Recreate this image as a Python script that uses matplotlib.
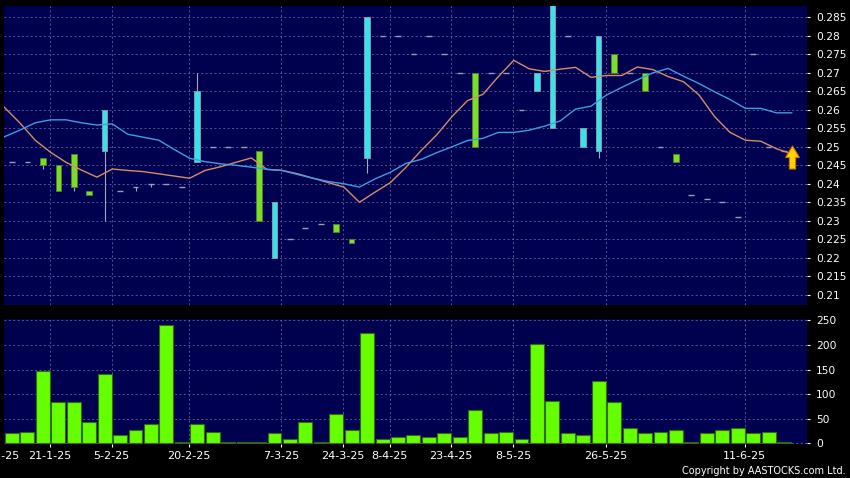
import numpy as np
import matplotlib
matplotlib.use('Agg')
import matplotlib.pyplot as plt
from matplotlib.path import Path

# daily bars, price in HKD, volume in '000 shares
opens = [0.246, 0.246, 0.247, 0.245, 0.248, 0.238, 0.249, 0.238, 0.239, 0.240,
         0.240, 0.239, 0.246, 0.250, 0.250, 0.250, 0.249, 0.220, 0.225, 0.228,
         0.229, 0.229, 0.225, 0.247, 0.280, 0.280, 0.275, 0.280, 0.275, 0.270,
         0.270, 0.270, 0.270, 0.260, 0.265, 0.255, 0.280, 0.250, 0.249, 0.275,
         0.270, 0.270, 0.250, 0.248, 0.237, 0.236, 0.235, 0.231, 0.275, 0.250,
         0.249]
highs = [0.246, 0.246, 0.247, 0.245, 0.248, 0.238, 0.260, 0.238, 0.239, 0.240,
         0.240, 0.239, 0.270, 0.250, 0.250, 0.250, 0.249, 0.235, 0.225, 0.228,
         0.229, 0.229, 0.225, 0.285, 0.280, 0.280, 0.275, 0.280, 0.275, 0.270,
         0.270, 0.270, 0.270, 0.260, 0.270, 0.290, 0.280, 0.255, 0.280, 0.275,
         0.270, 0.270, 0.250, 0.248, 0.237, 0.236, 0.235, 0.231, 0.275, 0.250,
         0.249]
lows = [0.246, 0.246, 0.244, 0.238, 0.238, 0.237, 0.230, 0.238, 0.238, 0.239,
        0.240, 0.239, 0.246, 0.250, 0.250, 0.250, 0.230, 0.220, 0.225, 0.228,
        0.229, 0.227, 0.224, 0.243, 0.280, 0.280, 0.275, 0.280, 0.275, 0.270,
        0.250, 0.270, 0.270, 0.260, 0.265, 0.255, 0.280, 0.250, 0.247, 0.270,
        0.270, 0.265, 0.250, 0.246, 0.237, 0.236, 0.235, 0.231, 0.275, 0.250,
        0.249]
closes = [0.246, 0.246, 0.245, 0.238, 0.239, 0.237, 0.260, 0.238, 0.239, 0.240,
          0.240, 0.239, 0.265, 0.250, 0.250, 0.250, 0.230, 0.235, 0.225, 0.228,
          0.229, 0.227, 0.224, 0.285, 0.280, 0.280, 0.275, 0.280, 0.275, 0.270,
          0.250, 0.270, 0.270, 0.260, 0.270, 0.290, 0.280, 0.255, 0.280, 0.270,
          0.270, 0.265, 0.250, 0.246, 0.237, 0.236, 0.235, 0.231, 0.275, 0.250,
          0.249]
volumes = [20, 24, 148, 84, 84, 44, 140, 16, 28, 39,
           240, 3, 39, 24, 3, 3, 3, 20, 8, 44,
           3, 59, 28, 224, 8, 12, 16, 12, 20, 12,
           68, 20, 24, 8, 203, 87, 20, 16, 127, 84,
           31, 20, 24, 28, 3, 20, 28, 31, 20, 24,
           3]

# moving averages, plotted half a bar to the right (first point is one bar before the window)
ma_short = [0.2607, 0.2565, 0.2518, 0.2485, 0.2458, 0.2437, 0.2418, 0.2440, 0.2436, 0.2433,
            0.2427, 0.2421, 0.2415, 0.2436, 0.2446, 0.2458, 0.2470, 0.2439, 0.2436, 0.2427,
            0.2415, 0.2403, 0.2391, 0.2350, 0.2377, 0.2403, 0.2444, 0.2490, 0.2532, 0.2582,
            0.2625, 0.2642, 0.2690, 0.2734, 0.2711, 0.2704, 0.2710, 0.2715, 0.2688, 0.2693,
            0.2693, 0.2716, 0.2709, 0.2690, 0.2676, 0.2640, 0.2582, 0.2539, 0.2518, 0.2515,
            0.2495, 0.2481]
ma_long = [0.2527, 0.2545, 0.2565, 0.2573, 0.2573, 0.2565, 0.2559, 0.2562, 0.2534, 0.2526,
           0.2518, 0.2493, 0.2469, 0.2460, 0.2454, 0.2450, 0.2445, 0.2439, 0.2436, 0.2425,
           0.2415, 0.2406, 0.2400, 0.2391, 0.2413, 0.2431, 0.2455, 0.2466, 0.2484, 0.2500,
           0.2517, 0.2523, 0.2539, 0.2539, 0.2545, 0.2556, 0.2570, 0.2602, 0.2610, 0.2640,
           0.2661, 0.2681, 0.2700, 0.2712, 0.2691, 0.2671, 0.2649, 0.2628, 0.2604, 0.2604,
           0.2592, 0.2592]

date_pos = [-0.72, 2.45, 6.45, 11.45, 17.45, 21.45, 24.45, 28.45, 32.45, 38.45, 47.45]
date_labels = ['7-1-25', '21-1-25', '5-2-25', '20-2-25', '7-3-25', '24-3-25',
               '8-4-25', '23-4-25', '8-5-25', '26-5-25', '11-6-25']
price_ticks = [0.21, 0.215, 0.22, 0.225, 0.23, 0.235, 0.24, 0.245, 0.25,
               0.255, 0.26, 0.265, 0.27, 0.275, 0.28, 0.285]
vol_ticks = [0, 50, 100, 150, 200, 250]

BG = '#000050'
GRID = '#55558f'
CYAN = '#36e2ee'
GREEN = '#7cdc2c'

o = np.array(opens); h = np.array(highs); l = np.array(lows); c = np.array(closes)
x = np.arange(len(c))
ma_x = np.arange(-1, len(c)) + 0.5

fig = plt.figure(figsize=(8.5, 4.78), dpi=100, facecolor='black')
ax = fig.add_axes([4/850, 1-305/478, 803/850, 299/478], facecolor=BG)
axv = fig.add_axes([4/850, 1-444/478, 803/850, 125/478], facecolor=BG)

xlim = (-0.518, 51.49)

# --- price panel
up = c > o
down = c < o
flat = ~(up | down)
has_wick = (h > np.maximum(o, c)) | (l < np.minimum(o, c))
ax.vlines(x[has_wick], l[has_wick], h[has_wick], color='#a8a8bc', lw=0.8, zorder=2)
ax.bar(x[up], (c - o)[up], bottom=o[up], width=0.36, color=CYAN,
       edgecolor='#7f9aa6', linewidth=0.7, zorder=3)
ax.bar(x[down], (o - c)[down], bottom=c[down], width=0.36, color=GREEN,
       edgecolor='#4d7f2c', linewidth=0.7, zorder=3)
ax.hlines(c[flat], x[flat] - 0.19, x[flat] + 0.19, color='#9c9cb4', lw=1.0, zorder=3)

ax.plot(ma_x, ma_short, color='#d98b64', lw=1.0, zorder=4)
ax.plot(ma_x, ma_long, color='#3c9fe2', lw=1.0, zorder=4)

# last-price arrow
arrow = Path([(0, 1), (0.6, 0), (0.27, 0), (0.27, -1), (-0.27, -1), (-0.27, 0), (-0.6, 0), (0, 1)],
             [Path.MOVETO] + [Path.LINETO] * 6 + [Path.CLOSEPOLY])
ax.plot(x[-1] + 0.5, c[-1] - 0.0017, marker=arrow, markersize=16.6, color='#ffd000',
        markeredgecolor='#c27a00', markeredgewidth=0.8, zorder=6, clip_on=False)

ax.set_xlim(*xlim)
ax.set_ylim(0.2072, 0.2881)
ax.yaxis.tick_right()
ax.set_yticks(price_ticks)
ax.set_yticklabels([f'{v:g}' for v in price_ticks])
ax.set_xticks([p for p in date_pos if p > xlim[0]])
ax.tick_params(axis='x', length=0, labelbottom=False)
ax.tick_params(axis='y', colors='white', labelsize=7.7, length=2.5, width=0.8, pad=4)

# --- volume panel
axv.bar(x, volumes, width=0.9, color='#66ff00', edgecolor='#2f6b12', linewidth=0.8, zorder=3)
axv.set_xlim(*xlim)
axv.set_ylim(-1.4, 252.9)
axv.yaxis.tick_right()
axv.set_yticks(vol_ticks)
axv.set_xticks([p for p in date_pos if p > xlim[0]])
axv.set_xticklabels([lab for p, lab in zip(date_pos, date_labels) if p > xlim[0]])
axv.tick_params(axis='y', colors='white', labelsize=7.7, length=2.5, width=0.8, pad=4)
axv.tick_params(axis='x', colors='white', labelsize=8, length=2.2, width=0.8, pad=3)
for p, lab in zip(date_pos, date_labels):
    if p <= xlim[0]:
        # date left of the plot area: only its tail shows, as in the source chart
        axv.annotate(lab, xy=(p, 0), xycoords=('data', 'axes fraction'),
                     xytext=(0, -5.2), textcoords='offset points', ha='center', va='top',
                     color='white', fontsize=8, annotation_clip=False)

for a in (ax, axv):
    a.grid(True, color=GRID, linestyle=(0, (2, 2.5)), linewidth=0.7, zorder=0)
    a.set_axisbelow(True)
    for s in a.spines.values():
        s.set_visible(False)

fig.text(846/850, 1-471/478, 'Copyright by AASTOCKS.com Ltd.', ha='right', va='center',
         color='white', fontsize=7.0)

fig.savefig('out.png', dpi=100, facecolor='black')
